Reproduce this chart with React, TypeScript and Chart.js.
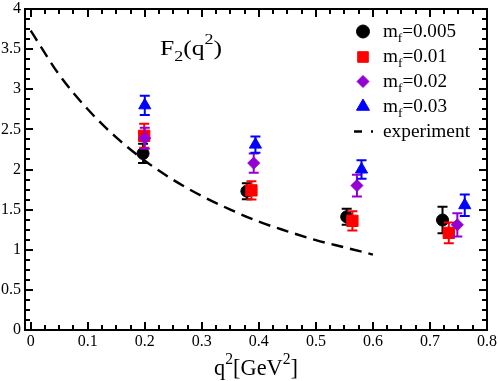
import { useEffect, useRef } from 'react';
import { Chart, registerables } from 'chart.js';

Chart.register(...registerables);

// ---- data ----
const qMf005 = [0.197, 0.379, 0.554, 0.722];
const fMf005 = [2.2, 1.73, 1.41, 1.37];
const eMf005 = [0.12, 0.1, 0.1, 0.165];

const qMf01 = [0.199, 0.387, 0.564, 0.733];
const fMf01 = [2.42, 1.74, 1.36, 1.21];
const eMf01 = [0.15, 0.115, 0.12, 0.13];

const qMf02 = [0.2, 0.391, 0.572, 0.748];
const fMf02 = [2.39, 2.08, 1.8, 1.31];
const eMf02 = [0.13, 0.12, 0.135, 0.145];

const qMf03 = [0.2, 0.394, 0.58, 0.761];
const fMf03 = [2.8, 2.31, 2.0, 1.555];
const eMf03 = [0.12, 0.1, 0.115, 0.135];

const qExp = [0, 0.05, 0.1, 0.15, 0.2, 0.25, 0.3, 0.35, 0.4, 0.45, 0.5, 0.55, 0.6];
const fExp = [3.73, 3.18, 2.75, 2.4, 2.11, 1.87, 1.67, 1.5, 1.35, 1.23, 1.12, 1.03, 0.94];

const xTickValues = [0, 0.1, 0.2, 0.3, 0.4, 0.5, 0.6, 0.7, 0.8];
const yTickValues = [0, 0.5, 1, 1.5, 2, 2.5, 3, 3.5, 4];

const seriesLabels = ['=0.005', '=0.01', '=0.02', '=0.03'];
const expLabel = 'experiment';

const BLACK = '#000000';
const RED = '#ff0000';
const PURPLE = '#9400d3';
const BLUE = '#0000ff';
const FONT = '"Liberation Serif", "Times New Roman", serif';

type Part = [string, number, number];

function richWidth(ctx: CanvasRenderingContext2D, size: number, parts: Part[]) {
  let w = 0;
  for (const [t, s] of parts) {
    ctx.font = `${size * s}px ${FONT}`;
    w += ctx.measureText(t).width;
  }
  return w;
}

// draws text made of normal / sub / superscript parts, fitted to a target width
function drawRich(ctx: CanvasRenderingContext2D, x: number, y: number, size: number, width: number, parts: Part[], center = false) {
  ctx.save();
  ctx.fillStyle = '#000';
  ctx.textBaseline = 'alphabetic';
  ctx.textAlign = 'left';
  const natural = richWidth(ctx, size, parts);
  const sx = width / natural;
  ctx.translate(center ? x - width / 2 : x, y);
  ctx.scale(sx, 1);
  let cx = 0;
  for (const [t, s, dy] of parts) {
    ctx.font = `${size * s}px ${FONT}`;
    ctx.fillText(t, cx, dy);
    cx += ctx.measureText(t).width;
  }
  ctx.restore();
}

function drawMarker(ctx: CanvasRenderingContext2D, style: string, x: number, y: number, r: number, color: string) {
  ctx.save();
  ctx.fillStyle = color;
  ctx.strokeStyle = color;
  ctx.lineWidth = 1;
  ctx.beginPath();
  if (style === 'circle') {
    ctx.arc(x, y, r, 0, Math.PI * 2);
  } else if (style === 'rect') {
    const s = Math.SQRT1_2 * r;
    ctx.rect(x - s, y - s, 2 * s, 2 * s);
  } else if (style === 'rectRot') {
    ctx.moveTo(x - r, y);
    ctx.lineTo(x, y - r);
    ctx.lineTo(x + r, y);
    ctx.lineTo(x, y + r);
    ctx.closePath();
  } else if (style === 'triangle') {
    ctx.moveTo(x, y - r);
    ctx.lineTo(x + Math.sin((2 * Math.PI) / 3) * r, y + r / 2);
    ctx.lineTo(x - Math.sin((2 * Math.PI) / 3) * r, y + r / 2);
    ctx.closePath();
  }
  ctx.fill();
  ctx.stroke();
  ctx.restore();
}

const errorBarPlugin = {
  id: 'errorBars',
  beforeDatasetDraw(chart: any, args: any) {
    const ds: any = chart.data.datasets[args.index];
    if (!ds.errors) return;
    const { ctx, chartArea, scales } = chart;
    ctx.save();
    ctx.beginPath();
    ctx.rect(chartArea.left, chartArea.top, chartArea.right - chartArea.left, chartArea.bottom - chartArea.top);
    ctx.clip();
    ctx.strokeStyle = ds.borderColor;
    ctx.lineWidth = 2;
    ds.data.forEach((p: any, i: number) => {
      const e = ds.errors[i];
      const x = scales.x.getPixelForValue(p.x);
      const yt = scales.y.getPixelForValue(p.y + e);
      const yb = scales.y.getPixelForValue(p.y - e);
      const cap = 5;
      ctx.beginPath();
      ctx.moveTo(x, yt);
      ctx.lineTo(x, yb);
      ctx.moveTo(x - cap, yt);
      ctx.lineTo(x + cap, yt);
      ctx.moveTo(x - cap, yb);
      ctx.lineTo(x + cap, yb);
      ctx.stroke();
    });
    ctx.restore();
  },
};

const framePlugin = {
  id: 'frameAndText',
  afterDraw(chart: any) {
    const { ctx, chartArea, scales } = chart;
    const { left, right, top, bottom } = chartArea;
    ctx.save();
    ctx.strokeStyle = '#000';
    ctx.lineWidth = 2;
    ctx.beginPath();
    for (let k = 0; k <= 32; k++) {
      const v = k * 0.025;
      const x = Math.round(scales.x.getPixelForValue(v));
      const len = k % 4 === 0 ? 8 : 5;
      ctx.moveTo(x, bottom);
      ctx.lineTo(x, bottom - len);
      ctx.moveTo(x, top);
      ctx.lineTo(x, top + len);
    }
    for (let k = 0; k <= 32; k++) {
      const v = k * 0.125;
      const y = Math.round(scales.y.getPixelForValue(v));
      const len = k % 4 === 0 ? 8 : 5;
      ctx.moveTo(left, y);
      ctx.lineTo(left + len, y);
      ctx.moveTo(right, y);
      ctx.lineTo(right - len, y);
    }
    ctx.stroke();
    ctx.strokeRect(left, top, right - left, bottom - top);
    ctx.restore();

    // F2(q^2) label
    drawRich(ctx, 160, 55, 22, 62, [
      ['F', 1, 0],
      ['2', 0.7, 6],
      ['(q', 1, 0],
      ['2', 0.7, -11],
      [')', 1, 0],
    ]);

    // legend
    const rows = [
      { style: 'circle', r: 6.5, color: BLACK, y: 31.5, w: 73 },
      { style: 'rect', r: 7.5, color: RED, y: 57, w: 64 },
      { style: 'rectRot', r: 6, color: PURPLE, y: 81.5, w: 64 },
      { style: 'triangle', r: 7.5, color: BLUE, y: 106.5, w: 64 },
    ];
    rows.forEach((row, i) => {
      drawMarker(ctx, row.style, 363, row.y, row.r, row.color);
      drawRich(ctx, 383, row.y + 5, 18, row.w, [
        ['m', 1, 0],
        ['f', 0.7, 5],
        [seriesLabels[i], 1, 0],
      ]);
    });
    ctx.save();
    ctx.strokeStyle = '#000';
    ctx.lineWidth = 2.4;
    ctx.setLineDash([8, 9]);
    ctx.beginPath();
    ctx.moveTo(354, 131.5);
    ctx.lineTo(373, 131.5);
    ctx.stroke();
    ctx.restore();
    drawRich(ctx, 383, 136.5, 18, 87, [[expLabel, 1, 0]]);

    // x axis title
    drawRich(ctx, (left + right) / 2, 375, 24, 84, [
      ['q', 1, 0],
      ['2', 0.7, -11],
      ['[GeV', 1, 0],
      ['2', 0.7, -11],
      [']', 1, 0],
    ], true);
  },
};

function pts(xs: number[], ys: number[]) {
  return xs.map((x, i) => ({ x, y: ys[i] }));
}

function fmt(v: number) {
  return String(v);
}

export default function App() {
  const ref = useRef<HTMLCanvasElement>(null);
  useEffect(() => {
    if (!ref.current) return;
    const mk = (data: any, errors: number[], color: string, style: string, r: number, order: number) => ({
      type: 'scatter' as const,
      data,
      errors,
      backgroundColor: color,
      borderColor: color,
      pointBackgroundColor: color,
      pointBorderColor: color,
      pointStyle: style,
      pointRadius: r,
      pointBorderWidth: 1,
      showLine: false,
      order,
    });
    const chart = new Chart(ref.current, {
      type: 'scatter',
      data: {
        datasets: [
          {
            type: 'line',
            data: pts(qExp, fExp),
            borderColor: BLACK,
            borderWidth: 2.4,
            borderDash: [12, 7],
            pointRadius: 0,
            fill: false,
            cubicInterpolationMode: 'monotone',
            order: 5,
          } as any,
          mk(pts(qMf005, fMf005), eMf005, BLACK, 'circle', 6, 4),
          mk(pts(qMf01, fMf01), eMf01, RED, 'rect', 8, 3),
          mk(pts(qMf02, fMf02), eMf02, PURPLE, 'rectRot', 6, 2),
          mk(pts(qMf03, fMf03), eMf03, BLUE, 'triangle', 7, 1),
        ] as any,
      },
      options: {
        responsive: false,
        animation: false,
        events: [],
        layout: { padding: { top: 7, right: 11, left: 0, bottom: 0 } },
        plugins: { legend: { display: false }, tooltip: { enabled: false } },
        scales: {
          x: {
            type: 'linear',
            min: -0.01,
            max: 0.8,
            grid: { display: false, drawTicks: false },
            border: { display: false },
            afterBuildTicks: (s: any) => {
              s.ticks = xTickValues.map((v) => ({ value: v }));
            },
            afterFit: (s: any) => {
              s.height = 51;
              s.paddingLeft = 0;
              s.paddingRight = 0;
            },
            ticks: {
              color: '#000',
              font: { family: FONT, size: 16 },
              padding: 2,
              maxRotation: 0,
              autoSkip: false,
              callback: (v: any) => fmt(v),
            },
          },
          y: {
            type: 'linear',
            min: 0,
            max: 4,
            grid: { display: false, drawTicks: false },
            border: { display: false },
            afterBuildTicks: (s: any) => {
              s.ticks = yTickValues.map((v) => ({ value: v }));
            },
            afterFit: (s: any) => {
              s.width = 25;
              s.paddingTop = 0;
              s.paddingBottom = 0;
            },
            ticks: {
              color: '#000',
              font: { family: FONT, size: 16 },
              padding: 4,
              autoSkip: false,
              callback: (v: any) => fmt(v),
            },
          },
        },
      } as any,
      plugins: [errorBarPlugin, framePlugin],
    });
    return () => chart.destroy();
  }, []);
  return (
    <div style={{ position: 'fixed', left: 0, top: 0, width: 498, height: 381, background: '#fff' }}>
      <canvas ref={ref} width={498} height={381} style={{ display: 'block', width: 498, height: 381 }} />
    </div>
  );
}
